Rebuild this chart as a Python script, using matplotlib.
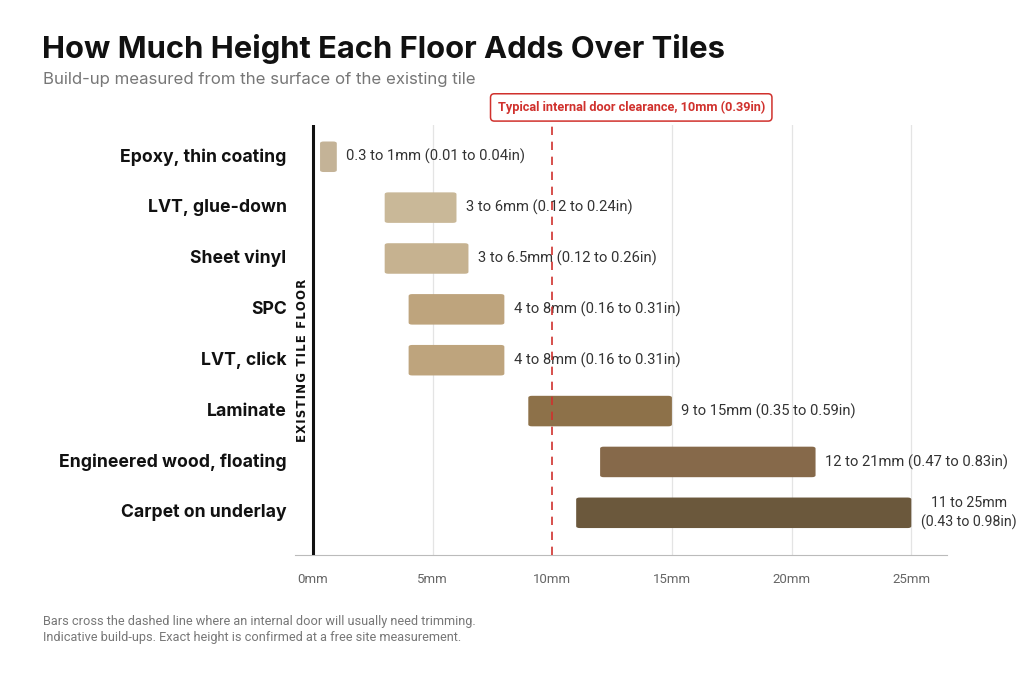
import matplotlib
matplotlib.use('Agg')
import matplotlib.pyplot as plt
from matplotlib.patches import FancyBboxPatch

# data
floors = ['Epoxy, thin coating', 'LVT, glue-down', 'Sheet vinyl', 'SPC', 'LVT, click',
          'Laminate', 'Engineered wood, floating', 'Carpet on underlay']
low_mm = [0.3, 3, 3, 4, 4, 9, 12, 11]
high_mm = [1, 6, 6.5, 8, 8, 15, 21, 25]
labels = ['0.3 to 1mm (0.01 to 0.04in)', '3 to 6mm (0.12 to 0.24in)',
          '3 to 6.5mm (0.12 to 0.26in)', '4 to 8mm (0.16 to 0.31in)',
          '4 to 8mm (0.16 to 0.31in)', '9 to 15mm (0.35 to 0.59in)',
          '12 to 21mm (0.47 to 0.83in)', '11 to 25mm\n(0.43 to 0.98in)']
colors = ['#c4b397', '#c9b898', '#c6b290', '#bea47d', '#bea47d',
          '#8d7149', '#86694a', '#6b583c']
ticks = [0, 5, 10, 15, 20, 25]
door_mm = 10

fig = plt.figure(figsize=(10.24, 6.83), dpi=100)
ax = fig.add_axes([0.288, 0.1874, 0.637, 0.63])
ax.set_xlim(-0.75, 26.5)
ax.set_ylim(7.83, -0.63)

for x in [5, 15, 20, 25]:
    ax.axvline(x, color='#e4e4e4', lw=0.9, zorder=0)

bh = 0.6
for i in range(len(floors)):
    w = high_mm[i] - low_mm[i]
    ax.add_patch(FancyBboxPatch((low_mm[i], i - bh / 2), w, bh,
                                boxstyle='round,pad=0,rounding_size=0.15',
                                mutation_aspect=1 / 4,
                                fc=colors[i], ec='none', zorder=2))
    fs = 10.6 if i < 7 else 10.2
    ax.text(high_mm[i] + 0.4, i, labels[i], va='center', ha='left',
            fontsize=fs, family='Roboto', color='#333333', linespacing=1.35,
            multialignment='center')
    ax.text(-1.1, i, floors[i], va='center', ha='right', fontsize=12.7,
            family='Inter', fontweight='bold', color='#111111', clip_on=False)

ax.axvline(0, color='#111111', lw=2.2, zorder=3)
ax.axvline(door_mm, color='#d0312d', lw=1.2, ls=(0, (5, 4)), zorder=3,
           ymax=1.02, clip_on=False)

ax.text(door_mm + 3.3, -0.97, 'Typical internal door clearance, 10mm (0.39in)',
        ha='center', va='center', fontsize=9.2, family='Roboto', fontweight='bold',
        color='#d0312d',
        bbox=dict(boxstyle='round,pad=0.55,rounding_size=0.3', fc='white', ec='#d0312d', lw=1.1),
        clip_on=False)

ax.text(-0.45, 4, '\u200a'.join('EXISTING TILE FLOOR'), rotation=90, ha='center',
        va='center', fontsize=8.5, fontweight='bold', color='#111111')

for s in ['top', 'right', 'left']:
    ax.spines[s].set_visible(False)
ax.spines['bottom'].set_color('#bbbbbb')
ax.set_yticks([])
ax.set_xticks(ticks)
ax.set_xticklabels([f'{t}mm' for t in ticks], family='Roboto')
ax.tick_params(axis='x', length=0, pad=13, labelsize=9.5, labelcolor='#666666')

fig.text(0.041, 0.928, 'How Much Height Each Floor Adds Over Tiles', fontsize=22.3,
         family='Inter', fontweight='bold', color='#111111', va='center')
fig.text(0.042, 0.884, 'Build-up measured from the surface of the existing tile',
         fontsize=12.1, family='Inter', color='#777777', va='center')
fig.text(0.042, 0.09, 'Bars cross the dashed line where an internal door will usually need trimming.',
         fontsize=9.2, family='Roboto', color='#777777', va='center')
fig.text(0.042, 0.067, 'Indicative build-ups. Exact height is confirmed at a free site measurement.',
         fontsize=9.2, family='Roboto', color='#777777', va='center')

fig.savefig('out.png', dpi=100, facecolor='white')
